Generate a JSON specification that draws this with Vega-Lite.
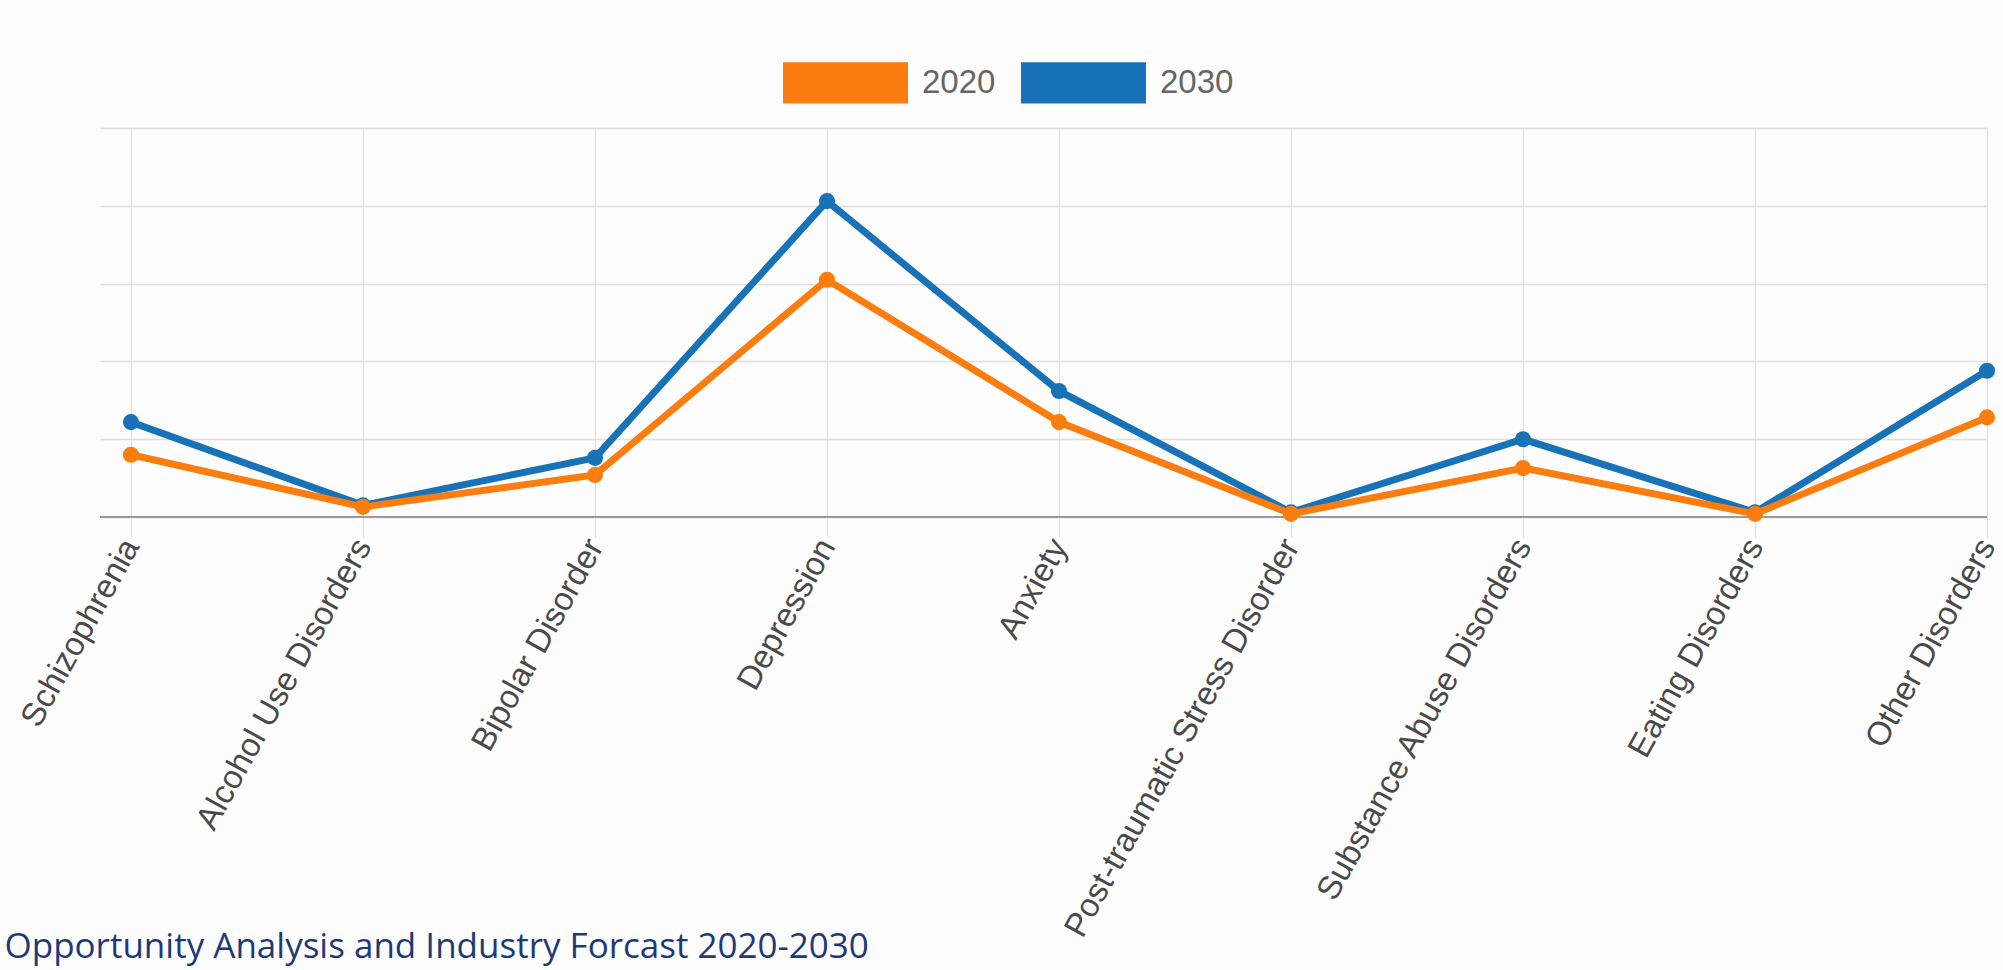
{
  "$schema": "https://vega.github.io/schema/vega-lite/v6.json",
  "autosize": {"type": "none"},
  "width": 1887,
  "height": 389,
  "padding": {"left": 100, "top": 128, "right": 16, "bottom": 453},
  "background": "#fdfdfd",
  "config": {"view": {"stroke": null}},
  "data": {
    "values": [
      {"disorder": "Schizophrenia", "year": "2020", "value": 0.80},
      {"disorder": "Alcohol Use Disorders", "year": "2020", "value": 0.13},
      {"disorder": "Bipolar Disorder", "year": "2020", "value": 0.54},
      {"disorder": "Depression", "year": "2020", "value": 3.05},
      {"disorder": "Anxiety", "year": "2020", "value": 1.22},
      {"disorder": "Post-traumatic Stress Disorder", "year": "2020", "value": 0.04},
      {"disorder": "Substance Abuse Disorders", "year": "2020", "value": 0.63},
      {"disorder": "Eating Disorders", "year": "2020", "value": 0.04},
      {"disorder": "Other Disorders", "year": "2020", "value": 1.28},
      {"disorder": "Schizophrenia", "year": "2030", "value": 1.22},
      {"disorder": "Alcohol Use Disorders", "year": "2030", "value": 0.15},
      {"disorder": "Bipolar Disorder", "year": "2030", "value": 0.76},
      {"disorder": "Depression", "year": "2030", "value": 4.06},
      {"disorder": "Anxiety", "year": "2030", "value": 1.62},
      {"disorder": "Post-traumatic Stress Disorder", "year": "2030", "value": 0.06},
      {"disorder": "Substance Abuse Disorders", "year": "2030", "value": 1.0},
      {"disorder": "Eating Disorders", "year": "2030", "value": 0.06},
      {"disorder": "Other Disorders", "year": "2030", "value": 1.88}
    ]
  },
  "layer": [
    {
      "mark": {"type": "rule", "color": "#9a9a9a", "strokeWidth": 2},
      "encoding": {"y": {"datum": 0, "type": "quantitative"}}
    },
    {
      "encoding": {
        "x": {
          "field": "disorder",
          "type": "nominal",
          "sort": null,
          "scale": {"type": "point", "padding": 0.0668, "align": 1},
          "axis": {
            "title": "Opportunity Analysis and Industry Forcast 2020-2030",
            "titleX": -96,
            "titleY": 440,
            "titleAlign": "left",
            "titleAnchor": "start",
            "titleBaseline": "alphabetic",
            "titleAngle": 0,
            "titleFont": "Open Sans",
            "titleFontSize": 35,
            "titleFontWeight": "normal",
            "titleColor": "#1d3a78",
            "labelAngle": -61,
            "labelFont": "Liberation Sans",
            "labelFontSize": 33,
            "labelColor": "#4a4a4a",
            "labelPadding": 4,
            "labelLimit": 1000,
            "labelOverlap": false,
            "tickSize": 20,
            "tickColor": "#dedede",
            "tickWidth": 1,
            "grid": true,
            "gridColor": "#dedede",
            "gridWidth": 1,
            "domain": false
          }
        },
        "y": {
          "field": "value",
          "type": "quantitative",
          "scale": {"domain": [0, 5], "nice": false},
          "axis": {
            "title": null,
            "values": [0, 1, 2, 3, 4, 5],
            "grid": true,
            "gridColor": "#dedede",
            "gridWidth": 1.5,
            "ticks": false,
            "labels": false,
            "domain": false
          }
        },
        "color": {
          "field": "year",
          "type": "nominal",
          "scale": {"domain": ["2020", "2030"], "range": ["#fc7d0f", "#1772b8"]},
          "legend": {
            "orient": "none",
            "legendX": 683,
            "legendY": -108,
            "direction": "horizontal",
            "title": null,
            "padding": 0,
            "symbolType": "M-1,-0.33H1V0.33H-1Z",
            "symbolSize": 15625,
            "symbolStrokeWidth": 0,
            "symbolOpacity": 1,
            "labelFont": "Liberation Sans",
            "labelFontSize": 33,
            "labelColor": "#666666",
            "labelOffset": 14,
            "columnPadding": 25,
            "encode": {
              "symbols": {
                "update": {
                  "fill": {"scale": "color", "field": "value"},
                  "stroke": {"value": "transparent"},
                  "opacity": {"value": 1}
                }
              }
            }
          }
        }
      },
      "layer": [
        {
          "transform": [{"filter": "datum.year == '2030'"}],
          "mark": {"type": "line", "strokeWidth": 7, "point": {"filled": true, "size": 260, "opacity": 1}}
        },
        {
          "transform": [{"filter": "datum.year == '2020'"}],
          "mark": {"type": "line", "strokeWidth": 7, "point": {"filled": true, "size": 260, "opacity": 1}}
        }
      ]
    }
  ]
}
